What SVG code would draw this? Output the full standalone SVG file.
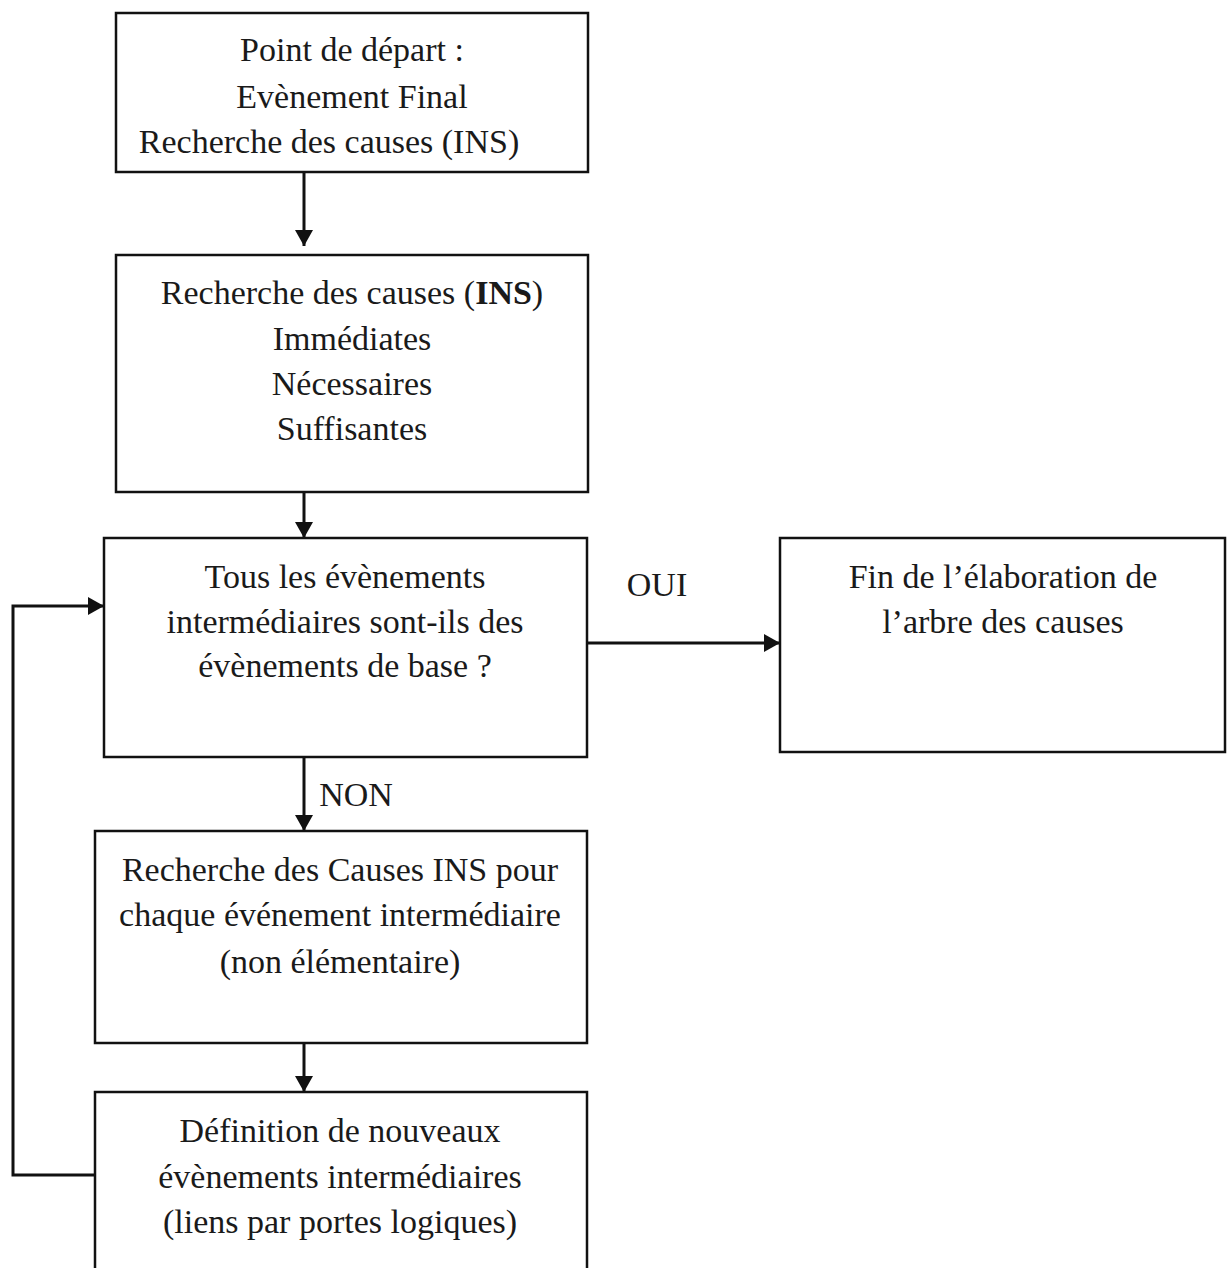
<svg xmlns="http://www.w3.org/2000/svg" width="1230" height="1268" viewBox="0 0 1230 1268">
  <style>
    .box { fill: #ffffff; stroke: #111111; stroke-width: 2.5; }
    .lbl { font-family: "Liberation Serif", "Times New Roman", serif; font-size: 34px; fill: #1a1a1a; text-anchor: middle; }
    .edge { fill: none; stroke: #111111; stroke-width: 3; }
  </style>
  <defs>
    <marker id="arrow" viewBox="0 0 16 18" refX="16" refY="9" markerWidth="16" markerHeight="18" markerUnits="userSpaceOnUse" orient="auto">
      <path d="M0,0 L16,9 L0,18 Z" fill="#111111"/>
    </marker>
  </defs>
  <rect width="1230" height="1268" fill="#ffffff"/>

  <g id="start">
    <rect class="box" x="116" y="13" width="472" height="159"/>
    <text class="lbl" x="352" y="61">Point de départ :</text>
    <text class="lbl" x="352" y="108">Evènement Final</text>
    <text class="lbl" x="329" y="153">Recherche des causes (INS)</text>
  </g>

  <g id="ins-search">
    <rect class="box" x="116" y="255" width="472" height="237"/>
    <text class="lbl" x="352" y="304">Recherche des causes (<tspan font-weight="bold">INS</tspan>)</text>
    <text class="lbl" x="352" y="350">Immédiates</text>
    <text class="lbl" x="352" y="395">Nécessaires</text>
    <text class="lbl" x="352" y="440">Suffisantes</text>
  </g>

  <g id="decision">
    <rect class="box" x="104" y="538" width="483" height="219"/>
    <text class="lbl" x="345" y="588">Tous les évènements</text>
    <text class="lbl" x="345" y="633">intermédiaires sont-ils des</text>
    <text class="lbl" x="345" y="677">évènements de base ?</text>
  </g>

  <g id="end">
    <rect class="box" x="780" y="538" width="445" height="214"/>
    <text class="lbl" x="1003" y="588">Fin de l’élaboration de</text>
    <text class="lbl" x="1003" y="633">l’arbre des causes</text>
  </g>

  <g id="per-event">
    <rect class="box" x="95" y="831" width="492" height="212"/>
    <text class="lbl" x="340" y="881">Recherche des Causes INS pour</text>
    <text class="lbl" x="340" y="926">chaque événement intermédiaire</text>
    <text class="lbl" x="340" y="973">(non élémentaire)</text>
  </g>

  <g id="new-events">
    <rect class="box" x="95" y="1092" width="492" height="200"/>
    <text class="lbl" x="340" y="1142">Définition de nouveaux</text>
    <text class="lbl" x="340" y="1188">évènements intermédiaires</text>
    <text class="lbl" x="340" y="1233">(liens par portes logiques)</text>
  </g>

  <g id="connectors">
    <line class="edge" x1="304" y1="172" x2="304" y2="246" marker-end="url(#arrow)"/>
    <line class="edge" x1="304" y1="492" x2="304" y2="538" marker-end="url(#arrow)"/>
    <line class="edge" x1="587" y1="643" x2="780" y2="643" marker-end="url(#arrow)"/>
    <line class="edge" x1="304" y1="757" x2="304" y2="831" marker-end="url(#arrow)"/>
    <line class="edge" x1="304" y1="1043" x2="304" y2="1092" marker-end="url(#arrow)"/>
    <polyline class="edge" points="95,1175 13,1175 13,606 104,606" marker-end="url(#arrow)"/>
    <text class="lbl" x="657" y="596">OUI</text>
    <text class="lbl" x="356" y="806">NON</text>
  </g>
</svg>
